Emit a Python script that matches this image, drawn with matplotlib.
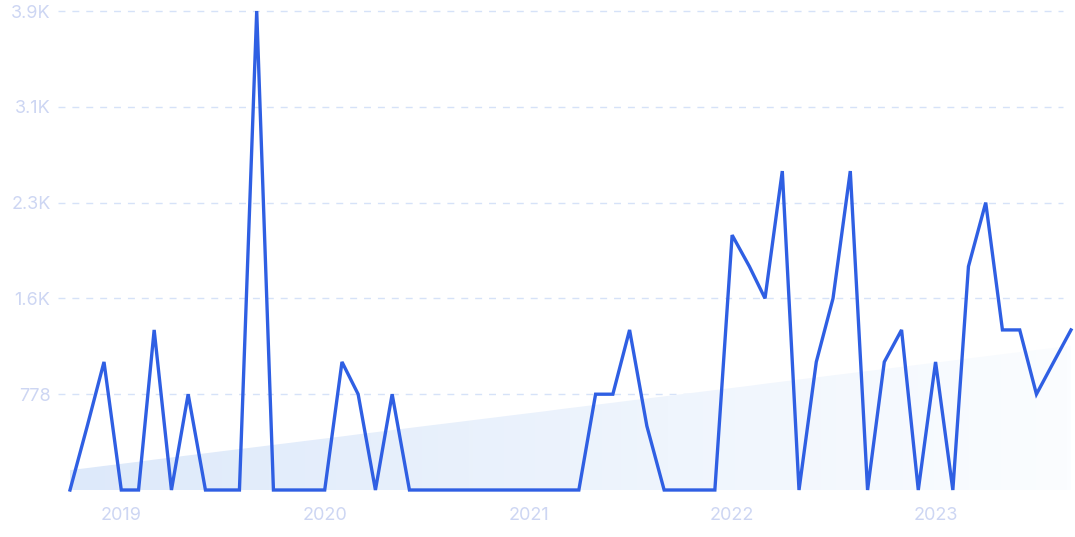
import numpy as np, pandas as pd
import matplotlib; matplotlib.use("Agg"); import matplotlib.pyplot as plt
import matplotlib.dates as mdates
from matplotlib.ticker import FixedLocator, FixedFormatter
from matplotlib.colors import LinearSegmentedColormap

plt.rcParams['font.family'] = ['Inter', 'DejaVu Sans']

# monthly values, Oct 2018 .. Sep 2023
months = pd.date_range("2018-10-01", periods=60, freq="MS")
values = [0, 520, 1040, 0, 0, 1300, 0, 778, 0, 0,            # Oct18-Jul19
          0, 3890, 0, 0, 0, 0, 1040, 778, 0, 778,            # Aug19-May20
          0, 0, 0, 0, 0, 0, 0, 0, 0, 0,                      # Jun20-Mar21
          0, 778, 778, 1300, 520, 0, 0, 0, 0, 2070,          # Apr21-Jan22
          1815, 1556, 2590, 0, 1040, 1556, 2590, 0, 1040, 1300,  # Feb22-Nov22
          0, 1040, 0, 1815, 2334, 1300, 1300, 778, 1040, 1300]   # Dec22-Sep23
ytick_vals = [778, 1556, 2334, 3112, 3890]
ytick_labels = ["778", "1.6K", "2.3K", "3.1K", "3.9K"]
year_ticks = ["2019", "2020", "2021", "2022", "2023"]

LINE = "#2f5fe3"; GRID = "#d6e2f8"; TXT = "#cdd6f3"

fig = plt.figure(figsize=(10.75, 5.37), dpi=100)
ax = fig.add_axes([70/1075, 1-490/537, 1001/1075, 479/537])
x = mdates.date2num(months)
y = np.array(values, float)

# trend area with horizontal gradient
k, b = np.polyfit(np.arange(len(y)), y, 1)
trend = k*np.arange(len(y)) + b
poly = ax.fill_between(x, 0, trend, color="none", lw=0)
grad = np.linspace(0, 1, 256)[None, :]
cm = LinearSegmentedColormap.from_list("g", ["#dde9fa", "#fbfdff"])
im = ax.imshow(grad, cmap=cm, aspect="auto", extent=[x[0], x[-1], 0, trend.max()], zorder=1)
im.set_clip_path(poly.get_paths()[0], transform=ax.transData)

ax.plot(x, y, color=LINE, lw=2.4, zorder=3, clip_on=False, solid_joinstyle="miter")

for v in ytick_vals:
    ax.axhline(v, xmin=-0.012, xmax=0.992, color=GRID, lw=1, ls=(0, (5, 5)), zorder=0, clip_on=False)

ax.set_xlim(x[0], x[-1]); ax.set_ylim(0, 3890)
ax.yaxis.set_major_locator(FixedLocator(ytick_vals))
ax.yaxis.set_major_formatter(FixedFormatter(ytick_labels))
yx = [mdates.date2num(pd.Timestamp(f"{t}-01-01")) for t in year_ticks]
ax.xaxis.set_major_locator(FixedLocator(yx))
ax.xaxis.set_major_formatter(FixedFormatter(year_ticks))
ax.tick_params(axis="y", length=0, pad=14, labelsize=13, labelcolor=TXT)
ax.tick_params(axis="x", length=0, pad=12, labelsize=13, labelcolor=TXT)
for s in ("top", "right", "bottom", "left"): ax.spines[s].set_visible(False)

fig.savefig("out.png", dpi=100)
